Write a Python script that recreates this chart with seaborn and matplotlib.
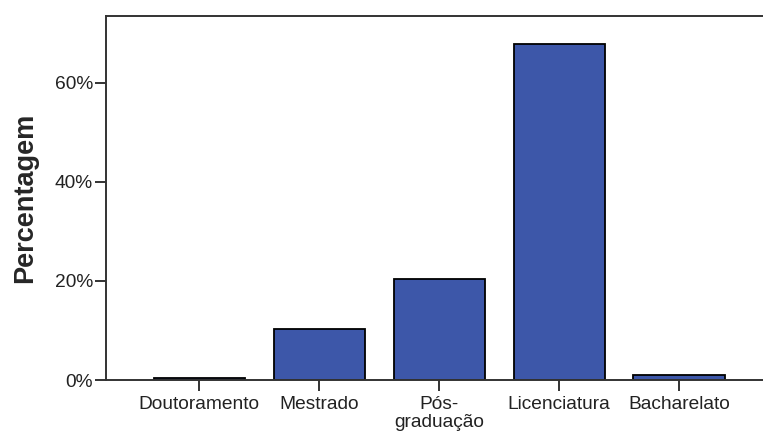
import matplotlib
matplotlib.use("Agg")
import matplotlib.pyplot as plt
import seaborn as sns
from matplotlib.ticker import FuncFormatter

categories = ["Doutoramento", "Mestrado", "Pós-\ngraduação", "Licenciatura", "Bacharelato"]
percentages = [0.4, 10.3, 20.3, 67.9, 1.1]
y_ticks = [0, 20, 40, 60]

sns.set_style("ticks")
plt.rcParams["font.family"] = ["Liberation Sans", "DejaVu Sans"]

fig = plt.figure(figsize=(7.63, 4.33), dpi=100)
ax = fig.add_axes([0.1389, 0.1224, 0.8611, 0.8418])

sns.barplot(
    x=categories,
    y=percentages,
    ax=ax,
    color="#3D57A9",
    saturation=1,
    width=0.76,
    edgecolor="black",
    linewidth=1.3,
)

ax.set_xlim(-0.779, 4.7)
ax.set_ylim(0, 73.6)
ax.set_yticks(y_ticks)
ax.yaxis.set_major_formatter(FuncFormatter(lambda v, pos: f"{v:.0f}%"))

for side in ["left", "top", "bottom"]:
    ax.spines[side].set_color("#333333")
    ax.spines[side].set_linewidth(1.4)
ax.spines["right"].set_visible(False)

ax.tick_params(axis="both", direction="out", length=8, width=1.4, color="#333333",
               labelsize=13.8, labelcolor="#222222", pad=1.5)
ax.tick_params(axis="x", pad=3.5)
for lab in ax.get_xticklabels():
    lab.set_linespacing(1.05)
ax.set_xlabel("")
ax.set_ylabel("Percentagem", fontsize=19.5, fontweight="bold", labelpad=12)

fig.savefig("out.png", dpi=100)
